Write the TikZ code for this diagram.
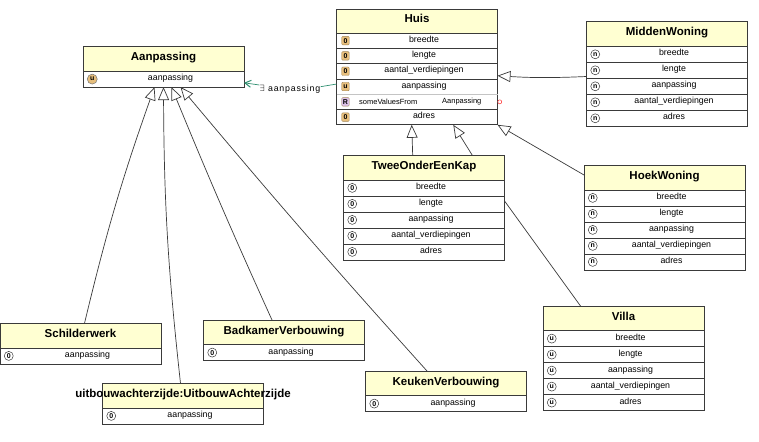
\documentclass[tikz,border=0pt]{standalone}
\usepackage{fontspec}
\setmainfont{Liberation Sans}
\usetikzlibrary{positioning,arrows.meta}

\definecolor{kopgeel}{HTML}{FFFFD2}
\definecolor{lijngrijs}{HTML}{3A3A3A}
\definecolor{ikonoranje}{HTML}{E6BE7C}
\definecolor{ikonpaars}{HTML}{DCC0E8}
\definecolor{pijlgroen}{HTML}{2F8F70}

\tikzset{
    kop/.style={draw=lijngrijs,fill=kopgeel,minimum width=161pt,minimum height=24.6pt,inner sep=0pt,outer sep=0pt,
        font=\bfseries\fontsize{11.5}{13}\selectfont,text height=8pt,text depth=4pt},
    rij/.style={draw=lijngrijs,fill=white,minimum width=161pt,minimum height=16pt,inner sep=0pt,outer sep=0pt,
        font=\fontsize{8.8}{10}\selectfont,text height=6pt,text depth=3pt,execute at begin node=\hspace*{14pt}},
    ikonrond/.style={circle,draw=lijngrijs,fill=white,line width=.5pt,minimum size=9pt,inner sep=0pt,
        font=\bfseries\fontsize{7}{7}\selectfont},
    ikonvol/.style={rectangle,rounded corners=1pt,draw=ikonoranje!70!black,line width=.4pt,minimum width=7.5pt,minimum height=8.5pt,inner sep=0pt,
        font=\bfseries\fontsize{7}{7}\selectfont},
    ikonoranjerond/.style={circle,draw=lijngrijs!70,fill=ikonoranje,line width=.5pt,minimum size=10pt,inner sep=0pt,
        font=\bfseries\fontsize{7}{7}\selectfont},
    gen/.style={draw=lijngrijs,-{Triangle[open,length=13pt,width=11pt,fill=white]}},
    assoc/.style={draw=pijlgroen,-{Straight Barb[length=6pt,width=7pt,line width=1pt]}},
}

\begin{document}
\begin{tikzpicture}[x=1pt,y=-1pt,node distance=0pt,line width=.7pt]
    \useasboundingbox (0,0) rectangle (759,441);
    % de klassen
    \foreach \myname/\myx/\myy/\mytitle/\myicon/\myletter/\myrows in {
        aanpassing/83/46.5/Aanpassing/ikonoranjerond/u/{aanpassing},
        midden/586.5/21.7/MiddenWoning/ikonrond/n/{breedte,lengte,aanpassing,aantal\_verdiepingen,adres},
        hoek/584/165.3/HoekWoning/ikonrond/n/{breedte,lengte,aanpassing,aantal\_verdiepingen,adres},
        twee/343.5/155.3/TweeOnderEenKap/ikonrond/0/{breedte,lengte,aanpassing,aantal\_verdiepingen,adres},
        villa/543/306/Villa/ikonrond/u/{breedte,lengte,aanpassing,aantal\_verdiepingen,adres},
        schilder/0/323.3/Schilderwerk/ikonrond/0/{aanpassing},
        uitbouw/102.5/383.3/uitbouwachterzijde:UitbouwAchterzijde/ikonrond/0/{aanpassing},
        badkamer/203.5/320/BadkamerVerbouwing/ikonrond/0/{aanpassing},
        keuken/365.5/371/KeukenVerbouwing/ikonrond/0/{aanpassing}}{
        \node[kop,anchor=north west] (\myname-0) at (\myx,\myy) {\makebox[0pt]{\mytitle}};
        \foreach \mytext [count=\myrow from 1,remember=\myrow as \myprev (initially 0)] in \myrows {
            \node[rij,below=of \myname-\myprev] (\myname-\myrow) {\mytext};
            \node[\myicon,right=4pt of \myname-\myrow.west] (\myname-\myrow-ikon) {\myletter};
        }
    }
    % Huis heeft ongelijke rijen
    \node[kop,minimum height=24pt,anchor=north west] (huis-0) at (336.5,9) {Huis};
    \foreach \mytext/\myletter/\mykleur [count=\myrow from 1,remember=\myrow as \myprev (initially 0)] in {
        breedte/0/ikonoranje,lengte/0/ikonoranje,aantal\_verdiepingen/0/ikonoranje,
        aanpassing/u/ikonoranje,{}/R/ikonpaars,adres/0/ikonoranje}{
        \node[rij,minimum height=15.3pt,below=of huis-\myprev] (huis-\myrow) {\mytext};
        \node[ikonvol,fill=\mykleur,right=5pt of huis-\myrow.west] (huis-\myrow-ikon) {\myletter};
    }
    \draw[lijngrijs!30] (huis-5.north west) -- (huis-5.north east);
    \node[font=\fontsize{7.5}{8}\selectfont,right=19pt of huis-5.west] (huis-some) {someValuesFrom};
    \node[font=\fontsize{7.5}{8}\selectfont,right=102pt of huis-5.west] (huis-klasse) {Aanpassing};
    \node[circle,draw=red!80,fill=white,line width=.5pt,minimum size=4pt,inner sep=0pt,right=0pt of huis-5.east] (huis-rondje) {};
    % de pijlen
    \draw[gen] ([yshift=1.8pt]midden-2.south west) to[bend left=3] ([yshift=-4.5pt]huis-3.east);
    \draw[gen] ([yshift=2.6pt]hoek-0.west) -- (huis-6.south east);
    \draw[gen] ([xshift=-11.3pt]twee-0.north) -- ([xshift=-5.3pt]huis-6.south);
    \draw[gen] ([xshift=48.3pt]twee-0.north) -- ([xshift=36.3pt]huis-6.south);
    \draw[lijngrijs] ([xshift=-43pt]villa-0.north) -- ([yshift=3pt]twee-2.east);
    \draw[gen] ([xshift=4pt]schilder-0.north) to[bend left=3] ([xshift=-9pt]aanpassing-1.south);
    \draw[gen] ([xshift=78pt]uitbouw-0.north west) to[bend left=3] (aanpassing-1.south);
    \draw[gen] ([xshift=-12pt]badkamer-0.north) to[bend left=1] ([xshift=8pt]aanpassing-1.south);
    \draw[gen] ([xshift=-19pt]keuken-0.north) to[bend left=1] ([xshift=17pt]aanpassing-1.south);
    % existentiele relatie
    \node[font=\fontsize{8.8}{10}\selectfont\addfontfeatures{LetterSpace=9},inner sep=0pt,text=black] (relatie) at (290,89.5) {$\exists$ aanpassing};
    \draw[pijlgroen] ([yshift=2.8pt]relatie.east) -- ([yshift=2.5pt]huis-4.west);
    \draw[assoc] ([yshift=4.5pt]relatie.west) -- ([yshift=-3.7pt]aanpassing-1.east);
\end{tikzpicture}
\end{document}
